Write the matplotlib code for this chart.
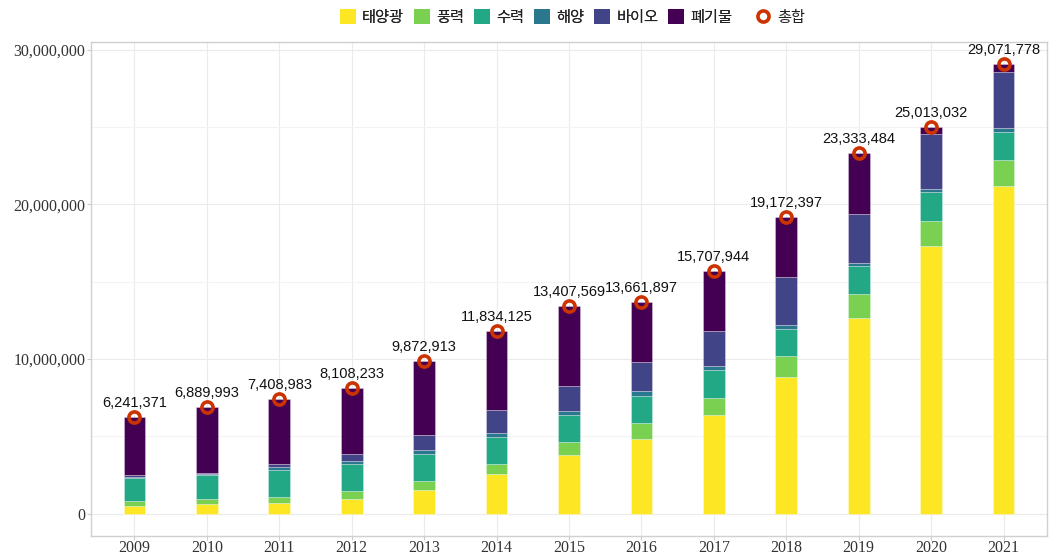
import matplotlib
matplotlib.use("Agg")
import matplotlib.pyplot as plt
import numpy as np
from matplotlib.lines import Line2D
from matplotlib.patches import Patch
from matplotlib.ticker import FuncFormatter, MultipleLocator

plt.rcParams["font.family"] = ["Noto Sans CJK KR", "DejaVu Sans"]

years = ["2009", "2010", "2011", "2012", "2013", "2014", "2015",
         "2016", "2017", "2018", "2019", "2020", "2021"]

# generation by source
solar = [470000, 600000, 690000, 970000, 1530000, 2550000, 3760000,
         4800000, 6370000, 8850000, 12660000, 17280000, 21160000]
wind = [350000, 370000, 370000, 460000, 560000, 630000, 860000,
        1030000, 1120000, 1320000, 1510000, 1660000, 1690000]
hydro = [1510000, 1540000, 1730000, 1750000, 1770000, 1770000, 1750000,
         1790000, 1800000, 1790000, 1810000, 1840000, 1810000]
ocean = [20000, 30000, 240000, 250000, 260000, 250000, 260000,
         290000, 240000, 240000, 240000, 240000, 260000]
bio = [160000, 100000, 150000, 440000, 950000, 1520000, 1620000,
       1880000, 2280000, 3100000, 3180000, 3500000, 3610000]
waste = [3731000, 4250000, 4230000, 4240000, 4800000, 5110000, 5160000,
         3870000, 3900000, 3870000, 3930000, 490000, 540000]
totals = [6241371, 6889993, 7408983, 8108233, 9872913, 11834125, 13407569,
          13661897, 15707944, 19172397, 23333484, 25013032, 29071778]

series = [
    ("태양광", solar, "#fde725"),
    ("풍력", wind, "#7ad151"),
    ("수력", hydro, "#22a884"),
    ("해양", ocean, "#2a788e"),
    ("바이오", bio, "#414487"),
    ("폐기물", waste, "#440154"),
]
MARK = "#cc3300"

fig = plt.figure(figsize=(10.51, 5.56), dpi=100)
ax = fig.add_axes([0.0866, 0.0365, 0.9096, 0.888])

x = np.arange(len(years))
bottom = np.zeros(len(years))
for name, vals, color in series:
    ax.bar(x, vals, width=0.3, bottom=bottom, color=color,
           edgecolor=(1, 1, 1, 0.35), linewidth=0.6, zorder=2)
    bottom += np.array(vals)

ax.plot(x, totals, "o", ms=8, mfc="none", mec=MARK, mew=2.6, zorder=4)
for xi, t in zip(x, totals):
    ax.annotate(f"{t:,}", (xi, t), xytext=(0, 5), textcoords="offset points",
                ha="center", va="bottom", fontsize=10.5,
                family=["Liberation Sans", "DejaVu Sans"], color="#111111")

ax.set_xlim(-0.6, 12.6)
ax.set_ylim(-1.43e6, 30.5e6)
ax.set_xticks(x)
ax.set_xticklabels(years)
ax.yaxis.set_major_locator(MultipleLocator(10e6))
ax.yaxis.set_minor_locator(MultipleLocator(5e6))
ax.yaxis.set_major_formatter(FuncFormatter(lambda v, p: f"{int(v):,}"))
for lab in ax.get_xticklabels() + ax.get_yticklabels():
    lab.set_family(["Liberation Serif", "DejaVu Serif"])
    lab.set_fontsize(11.5)
    lab.set_color("#333333")

ax.grid(True, which="major", color="#ebebeb", linewidth=0.8, zorder=0)
ax.grid(True, which="minor", axis="y", color="#f3f3f3", linewidth=0.8, zorder=0)
ax.set_axisbelow(True)
ax.tick_params(which="major", length=3, color="#cccccc", pad=1)
ax.tick_params(axis="x", which="major", pad=0)
ax.tick_params(which="minor", length=0)
for sp in ax.spines.values():
    sp.set_color("#d0d0d0")
    sp.set_linewidth(1)

# legend: six source patches, then the total marker a bit further right
handles = [Patch(facecolor=c, edgecolor="none") for _, _, c in series]
labels = [n for n, _, _ in series]
leg = fig.legend(handles, labels, loc="center left",
                 bbox_to_anchor=(340 / 1051, 0.969), ncol=6, frameon=False,
                 fontsize=11, handlelength=1.05, handleheight=1.05,
                 handletextpad=0.4, columnspacing=0.65, borderpad=0,
                 borderaxespad=0, labelcolor="#222222")
fig.add_artist(leg)
fig.legend([Line2D([], [], ls="none", marker="o", ms=8, mfc="none",
                   mec=MARK, mew=2.6)], ["총합"], loc="center left",
           bbox_to_anchor=(755 / 1051, 0.969), frameon=False, fontsize=11,
           handlelength=1.05, handletextpad=0.4, borderpad=0, borderaxespad=0,
           labelcolor="#222222")

fig.savefig("out.png", dpi=100)
